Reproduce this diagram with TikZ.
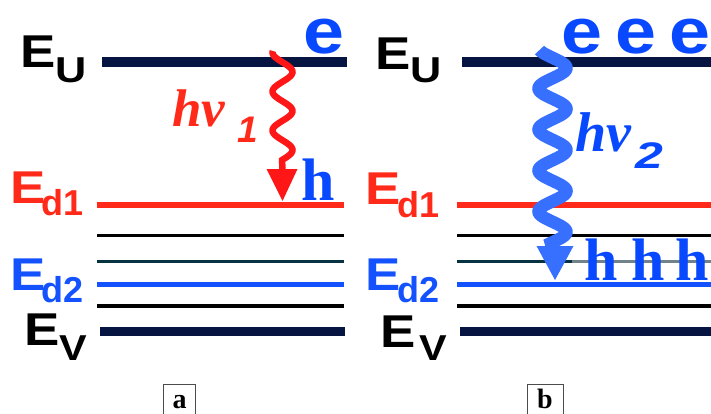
\documentclass[tikz,border=0pt]{standalone}
\usepackage{fontspec}
\setmainfont{Liberation Serif}
\newfontfamily\lsans{Liberation Sans}
\newcommand\wdx[2]{\scalebox{#1}[1]{#2}}
\definecolor{navy}{RGB}{6,20,66}
\definecolor{lred}{RGB}{255,42,26}
\definecolor{wred}{RGB}{255,22,22}
\definecolor{lblue}{RGB}{20,82,255}
\definecolor{tblue}{RGB}{8,72,255}
\definecolor{wblue}{RGB}{55,112,255}
\definecolor{tealline}{RGB}{6,50,66}
\definecolor{greyline}{RGB}{112,130,138}
\begin{document}
\begin{tikzpicture}[x=1pt,y=-1pt,
  elab/.style={anchor=base west,inner sep=0pt,font=\lsans\bfseries\fontsize{46}{46}\selectfont},
  esub/.style={anchor=base west,inner sep=0pt,font=\lsans\bfseries\fontsize{36}{36}\selectfont},
  ecar/.style={anchor=base west,inner sep=0pt,text=tblue,font=\lsans\bfseries\fontsize{64}{64}\selectfont},
  hcar/.style={anchor=base west,inner sep=0pt,text=tblue,font=\bfseries\fontsize{60}{60}\selectfont},
  hvlab/.style={anchor=base west,inner sep=0pt,font=\bfseries\itshape\fontsize{#1}{#1}\selectfont},
  hvsub/.style={anchor=base west,inner sep=0pt,font=\lsans\bfseries\itshape\fontsize{37}{37}\selectfont},
  bandedge/.style={line width=9.5pt,navy},
  redlevel/.style={line width=5.5pt,lred},
  bluelevel/.style={line width=5.5pt,lblue},
  thinlevel/.style={line width=3.5pt,black},
  teallevel/.style={line width=3.5pt,tealline},
  boxframe/.style={draw=black!70,line width=1pt},
  boxletter/.style={anchor=base,inner sep=0pt,font=\bfseries\fontsize{28}{28}\selectfont}]
\useasboundingbox (0,0) rectangle (711,414);

% ---------- panel a : levels ----------
\draw[bandedge] (102,62) -- (347,62);
\draw[redlevel] (97,205) -- (344,205);
\draw[thinlevel] (97,235.5) -- (344,235.5);
\draw[teallevel] (97,261.5) -- (344,261.5);
\draw[bluelevel] (97,284.5) -- (344,284.5);
\draw[thinlevel] (97,306) -- (344,306);
\draw[bandedge] (100,331.5) -- (345,331.5);

% ---------- panel b : levels ----------
\draw[bandedge] (462,62) -- (711,62);
\draw[redlevel] (457,205) -- (711,205);
\draw[thinlevel] (457,235.5) -- (711,235.5);
\draw[teallevel] (457,261.5) -- (572,261.5);
\draw[line width=3.5pt,greyline] (572,261.5) -- (711,261.5);
\draw[bluelevel] (457,284.5) -- (711,284.5);
\draw[thinlevel] (457,306) -- (711,306);
\draw[bandedge] (460,331.5) -- (711,331.5);

% ---------- panel a : labels ----------
\node[elab] (EUa) at (20,68) {\wdx{1.15}{E}};
\node[esub] (EUas) at (55.5,83) {\wdx{1.2}{U}};
\node[elab,text=lred] (Ed1a) at (10,203) {\wdx{1.15}{E}};
\node[esub,text=lred] (Ed1as) at (41.5,215) {d1};
\node[elab,text=lblue] (Ed2a) at (10,290) {\wdx{1.15}{E}};
\node[esub,text=lblue] (Ed2as) at (41.5,302) {d2};
\node[elab] (EVa) at (24,345) {\wdx{1.15}{E}};
\node[esub] (EVas) at (59,360) {\wdx{1.15}{V}};

\node[ecar] (ea) at (303,54) {\wdx{1.15}{e}};
\node[hcar] (ha) at (301,200) {h};
\node[hvlab=53,text=lred] (hv1) at (172,127) {hv};
\node[hvsub,text=lred] (hv1s) at (237,143) {1};

% wavy photon a
\coordinate (wa0) at (282.5,51);
\coordinate (wa1) at (282.5,201);
\draw[wred,line width=6.5pt] plot[domain=51:160,samples=140,variable=\t]
  ({282.5+10*sin(9.2308*(\t-62.25))},\t) -- (282.5,172);
\fill[wred] (266.5,169) -- (297.5,169) -- (wa1) -- cycle;

% ---------- panel b : labels ----------
\node[elab] (EUb) at (375,70) {\wdx{1.15}{E}};
\node[esub] (EUbs) at (410.5,83) {\wdx{1.2}{U}};
\node[elab,text=lred] (Ed1b) at (365,204) {\wdx{1.15}{E}};
\node[esub,text=lred] (Ed1bs) at (397.5,217) {d1};
\node[elab,text=lblue] (Ed2b) at (365,290) {\wdx{1.15}{E}};
\node[esub,text=lblue] (Ed2bs) at (397.5,302) {d2};
\node[elab] (EVb) at (380,347) {\wdx{1.15}{E}};
\node[esub] (EVbs) at (419,360) {\wdx{1.15}{V}};

\node[ecar] (eb1) at (561,54) {\wdx{1.15}{e}};
\node[ecar] (eb2) at (615,54) {\wdx{1.15}{e}};
\node[ecar] (eb3) at (669,54) {\wdx{1.15}{e}};
\node[hcar] (hb1) at (584,280) {h};
\node[hcar] (hb2) at (631,280) {h};
\node[hcar] (hb3) at (675,280) {h};
\node[hvlab=56,text=tblue] (hv2) at (575,152) {hv};
\node[hvsub,text=tblue] (hv2s) at (635,168) {\wdx{1.35}{2}};

% wavy photon b
\coordinate (wb0) at (552.5,50);
\coordinate (wb1) at (555,280);
\draw[wblue,line width=12.5pt] plot[domain=50:243,samples=220,variable=\t]
  ({552.5+14*sin(8.7805*(\t-57.75))},\t) -- (553,250);
\fill[wblue] (536.5,246) -- (573.5,246) -- (wb1) -- cycle;

% ---------- panel captions ----------
\node[boxletter] (capa) at (179.5,408) {a};
\draw[boxframe] (163.5,414) |- (195.5,384.5) -- (195.5,414);
\node[boxletter] (capb) at (545,408) {b};
\draw[boxframe] (527.5,414) |- (563.5,384.5) -- (563.5,414);
\end{tikzpicture}
\end{document}
